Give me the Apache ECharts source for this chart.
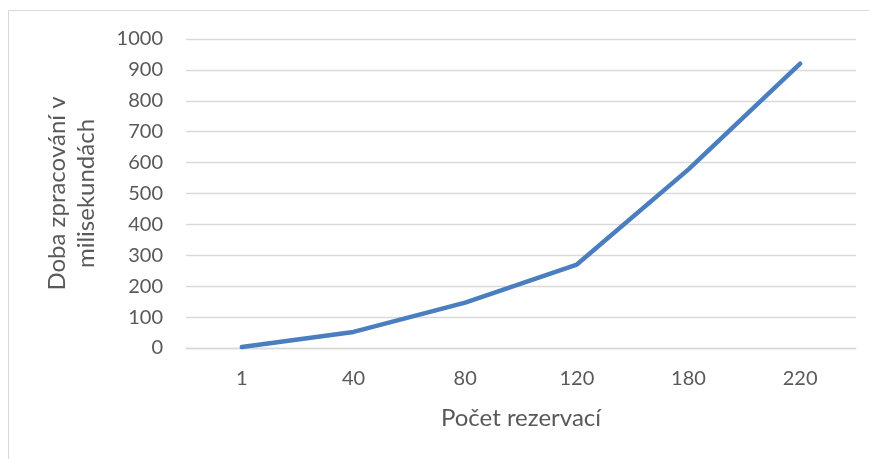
<!DOCTYPE html>
<html>
<head>
<meta charset="utf-8">
<script src="https://cdn.jsdelivr.net/npm/echarts@6/dist/echarts.min.js"></script>
<style>
  html, body { margin: 0; padding: 0; background: #fff; }
  #chart { width: 869px; height: 459px; }
</style>
</head>
<body>
<div id="chart"></div>
<script>
// Počet rezervací vs. doba zpracování
const categories = ['1', '40', '80', '120', '180', '220'];
const processingMs = [3, 52, 147, 270, 578, 920];
const yTicks = { min: 0, max: 1000, step: 100 };

const textColor = '#595959';
const fontFamily = 'Lato, "Open Sans", sans-serif';

const chart = echarts.init(document.getElementById('chart'), null, { renderer: 'canvas' });
chart.setOption({
  animation: false,
  backgroundColor: '#ffffff',
  graphic: [{
    type: 'rect',
    shape: { x: 8.5, y: 10.5, width: 900, height: 500 },
    style: { fill: 'none', stroke: '#d9d9d9', lineWidth: 1 },
    silent: true
  }],
  grid: { left: 186, right: 13, top: 39, bottom: 111 },
  xAxis: {
    type: 'category',
    data: categories,
    boundaryGap: true,
    name: 'Počet rezervací',
    nameLocation: 'middle',
    nameGap: 58,
    nameTextStyle: { color: textColor, fontSize: 24, fontFamily: fontFamily },
    axisLine: { show: true, lineStyle: { color: '#d9d9d9', width: 1.3 } },
    axisTick: { show: false },
    axisLabel: { color: textColor, fontSize: 20, fontFamily: fontFamily, margin: 21 }
  },
  yAxis: {
    type: 'value',
    min: yTicks.min,
    max: yTicks.max,
    interval: yTicks.step,
    name: 'Doba zpracování v\nmilisekundách',
    nameLocation: 'middle',
    nameRotate: 90,
    nameGap: 85,
    nameTextStyle: { color: textColor, fontSize: 24, fontFamily: fontFamily, lineHeight: 29 },
    axisLine: { show: false },
    axisTick: { show: false },
    axisLabel: {
      color: textColor, fontSize: 20, fontFamily: fontFamily, margin: 23,
      formatter: (v) => String(v)
    },
    splitLine: { lineStyle: { color: '#d9d9d9', width: 1.3 } }
  },
  series: [{
    type: 'line',
    data: processingMs,
    symbol: 'none',
    lineStyle: { color: '#4A7EBF', width: 4.5, cap: 'round', join: 'round' }
  }]
});
</script>
</body>
</html>
